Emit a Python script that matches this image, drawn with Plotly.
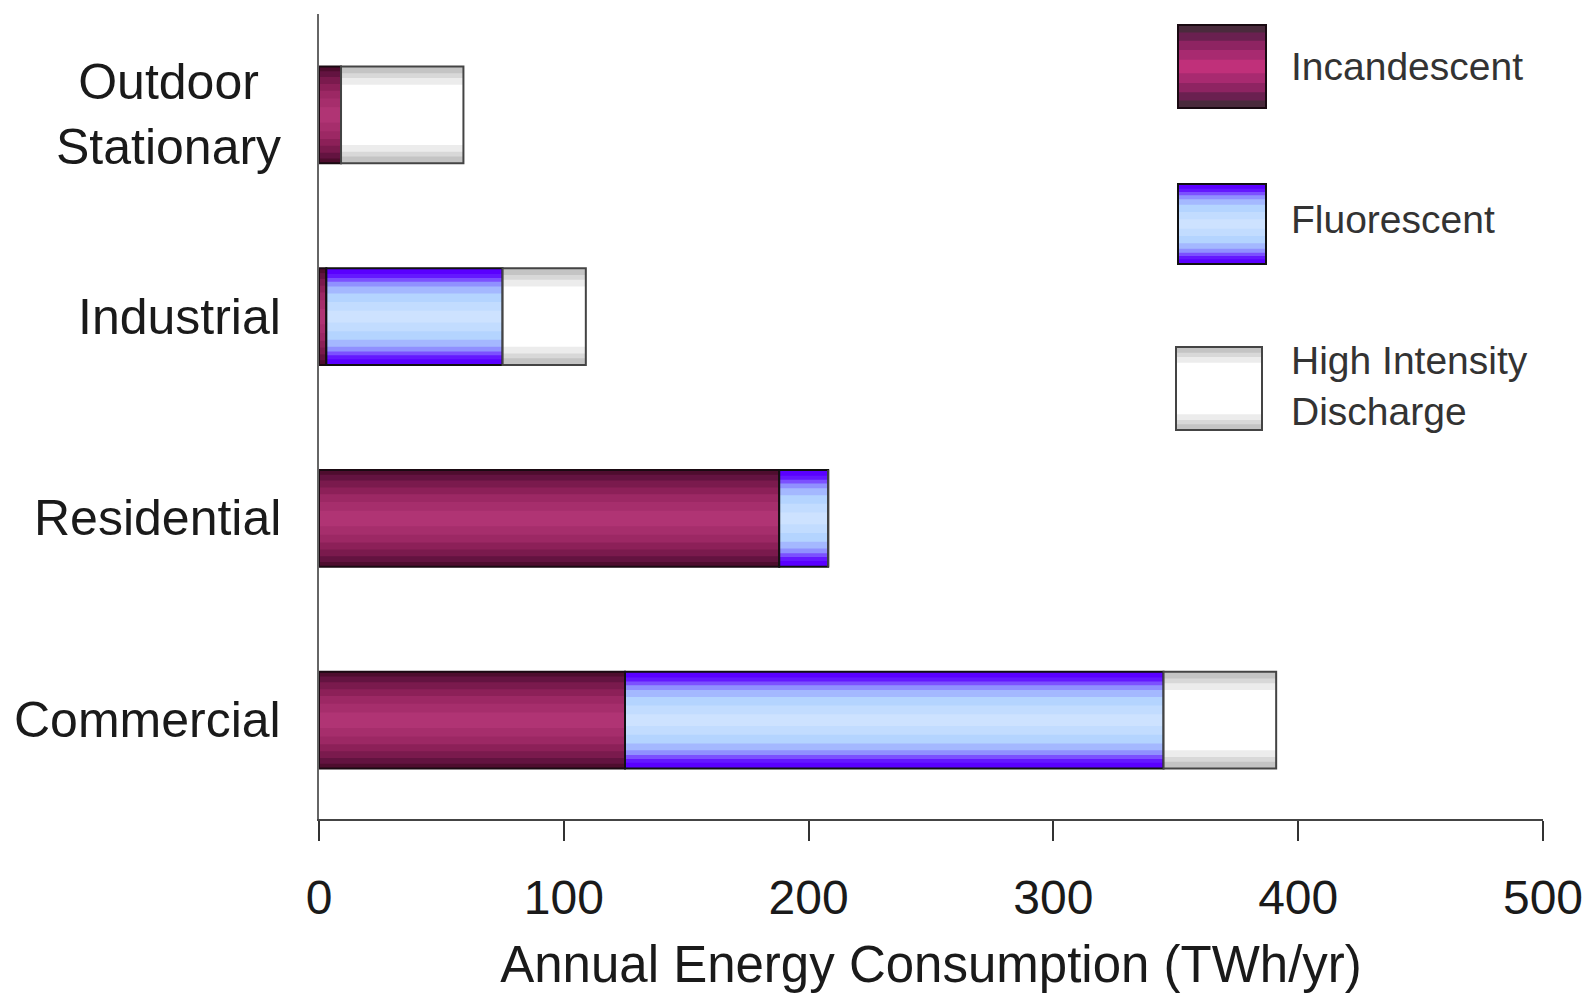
import plotly.graph_objects as go

# ---- data ----
categories = ["Commercial", "Residential", "Industrial", "Outdoor Stationary"]
category_labels = ["Commercial", "Residential", "Industrial", "Outdoor<br>Stationary"]
incandescent = [125, 188, 3, 9]
fluorescent = [220, 20, 72, 0]
hid = [46, 0, 34, 50]
series_names = ["Incandescent", "Fluorescent", "High Intensity<br>Discharge"]
x_ticks = [0, 100, 200, 300, 400, 500]
x_title = "Annual Energy Consumption (TWh/yr)"

# ---- styles ----
BAR_W = 0.48
FONT = "Arial, 'Liberation Sans', sans-serif"
# (width fraction, colour) from edge to centre -> vertical gradient
profiles = [
    [(1.0, "#4e0d2e"), (0.90, "#631340"), (0.78, "#7a1a4d"), (0.64, "#8c2058"),
     (0.50, "#9c2864"), (0.34, "#a62e6c"), (0.16, "#b03474")],
    [(1.0, "#5a00ff"), (0.88, "#6418ff"), (0.80, "#7c50ff"), (0.72, "#9090ff"),
     (0.62, "#a4b8ff"), (0.48, "#b4d4ff"), (0.30, "#c2dcff"), (0.12, "#cde2ff")],
    [(1.0, "#c4c4c4"), (0.86, "#d8d8d8"), (0.76, "#ececec"), (0.62, "#ffffff")],
]
legend_profiles = [
    [(1.0, "#4a2a3c"), (0.82, "#6a2050"), (0.62, "#8e2462"), (0.40, "#a82a70"),
     (0.16, "#c0307a")],
    profiles[1],
    profiles[2],
]
outline_cols = ["#1a0a12", "#111111", "#444444"]

series = [incandescent, fluorescent, hid]
fig = go.Figure()

bases = [0] * len(categories)
for vals, prof, oc in zip(series, profiles, outline_cols):
    for frac, col in prof:
        fig.add_trace(go.Bar(
            y=categories, x=vals, base=bases, orientation="h",
            width=BAR_W * frac, marker=dict(color=col, line=dict(width=0)),
            showlegend=False, hoverinfo="skip"))
    fig.add_trace(go.Bar(
        y=categories, x=vals, base=bases, orientation="h", width=BAR_W,
        marker=dict(color="rgba(0,0,0,0)", line=dict(color=oc, width=2)),
        showlegend=False, hoverinfo="skip"))
    bases = [b + v for b, v in zip(bases, vals)]

# ---- layout geometry (pixels) ----
W, H = 1589, 993
L, R, T, B = 319, 46, 14, 174
pw, ph = W - L - R, H - T - B

def px(xp):
    return (xp - L) / pw

def py(yp):
    return (H - B - yp) / ph

shapes = []
annotations = []
# legend swatches with gradient
legend_boxes = [(1178, 1266, 25, 108), (1178, 1266, 184, 264), (1176, 1262, 347, 430)]
legend_text_y = [66, 220, 386]
for (x0, x1, y0, y1), prof, oc, name, ty in zip(legend_boxes, legend_profiles, outline_cols,
                                                series_names, legend_text_y):
    cy, hh = (y0 + y1) / 2, (y1 - y0) / 2
    for frac, col in prof:
        shapes.append(dict(type="rect", xref="paper", yref="paper",
                           x0=px(x0), x1=px(x1), y0=py(cy - hh * frac), y1=py(cy + hh * frac),
                           fillcolor=col, line=dict(width=0), layer="above"))
    shapes.append(dict(type="rect", xref="paper", yref="paper",
                       x0=px(x0), x1=px(x1), y0=py(y0), y1=py(y1),
                       fillcolor="rgba(0,0,0,0)", line=dict(color=oc, width=2), layer="above"))
    annotations.append(dict(xref="paper", yref="paper", x=px(1289), y=py(ty),
                            xanchor="left", yanchor="middle", align="left",
                            text=name, showarrow=False,
                            font=dict(family=FONT, size=39, color="#333333")))

# category labels (centre-aligned multi-line)
for cat, lab in zip(categories, category_labels):
    annotations.append(dict(xref="paper", yref="y", x=0, y=cat, xanchor="right",
                            yanchor="middle", xshift=-36, align="center", text=lab,
                            showarrow=False, font=dict(family=FONT, size=50, color="#1a1a1a")))

fig.update_layout(
    width=W, height=H, autosize=False,
    margin=dict(l=L, r=R, t=T, b=B, autoexpand=False),
    paper_bgcolor="white", plot_bgcolor="white",
    barmode="overlay", showlegend=False,
    shapes=shapes, annotations=annotations,
    font=dict(family=FONT, color="#1a1a1a"),
    xaxis=dict(range=[0, 500], tickvals=x_ticks, ticks="outside", ticklen=20,
               tickwidth=1.5, tickcolor="#333333", showline=True, linecolor="#444444",
               linewidth=2, showgrid=False, zeroline=False, ticklabelstandoff=15,
               ticklabeloverflow="allow", automargin=False,
               tickfont=dict(family=FONT, size=48, color="#1a1a1a"),
               title=dict(text=x_title, font=dict(family=FONT, size=51, color="#1a1a1a"),
                          standoff=27)),
    yaxis=dict(type="category", categoryorder="array", categoryarray=categories,
               range=[-0.49, 3.5], showticklabels=False, ticks="", showline=True,
               linecolor="#666666", linewidth=2, showgrid=False, zeroline=False),
)

fig.write_html("out.html", config={"displayModeBar": False},
               post_script="document.body.style.margin='0';document.body.style.overflow='hidden';")
